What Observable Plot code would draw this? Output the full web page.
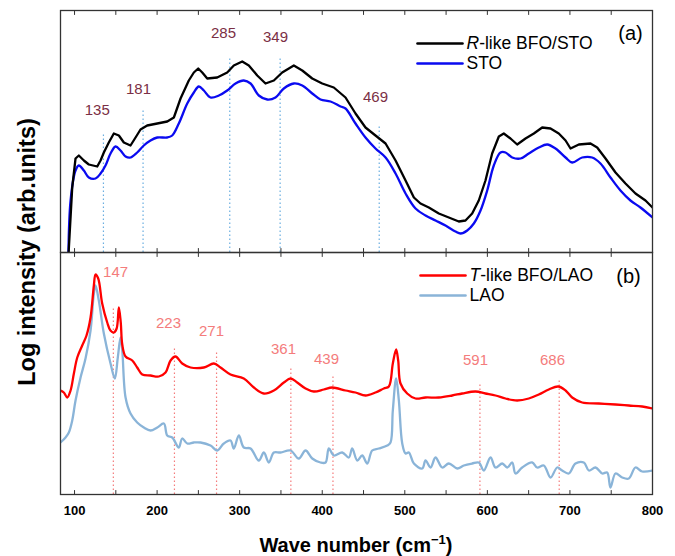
<!DOCTYPE html>
<html><head><meta charset="utf-8">
<script src="https://cdn.jsdelivr.net/npm/d3@7"></script>
<script src="https://cdn.jsdelivr.net/npm/@observablehq/plot@0.6"></script>
<style>body{margin:0;background:#fff}</style>
</head><body><div id="chart"></div>
<script>
// Panel (a): R-like BFO/STO and STO spectra [wavenumber, log intensity (arb.)]
const rlikeBFO = [[92.5,-5],[97.2,65],[101.2,94],[105.2,97],[111.3,92],[117.3,88],[127.5,86],[131.5,92],[135.5,100],[141.5,110],[147.6,119],[153.7,117],[159.7,110],[167.8,107],[173.9,115],[179.9,123],[188,127],[200.2,129],[212.3,131],[220.3,135],[228.4,154],[238.4,172],[244.5,180],[249.8,184],[254.7,180],[260.7,174],[272.8,175],[284.9,180],[292.9,187],[303.1,191],[311.1,187],[321.3,177],[331.3,169],[341.4,172],[351.5,180],[365.6,187],[375.8,182],[387.9,174],[400,169],[414,165],[428.2,155],[440.3,139],[452.4,125],[464.5,117],[476.7,109],[488.8,92],[500.9,72],[511,55],[519,49],[529.1,45],[541.2,39],[553.3,35],[565.4,31],[573.5,32],[581.6,39],[589.6,52],[597.7,72],[605.8,99],[613.9,116],[619.9,119],[628,114],[636.1,108],[646.2,114],[656.3,119],[666.4,125],[676.5,124],[686.5,119],[694.7,112],[700.7,104],[710.8,108],[724.9,109],[733,105],[743.1,94],[755.2,80],[767.3,69],[779.4,59],[791.5,52],[800,45]];
const sto = [[92.5,-5],[95.2,52],[101.2,82],[105.2,87],[111.3,82],[117.3,75],[125.4,74],[131.5,79],[137.5,87],[143.6,99],[149.7,106],[155.7,102],[161.8,96],[167.8,95],[175.9,100],[183.9,107],[192,112],[200.2,115],[212.3,115],[218.3,117],[226.3,129],[236.5,149],[244.5,160],[250.5,166],[256.6,162],[264.7,155],[274.8,157],[284.9,162],[295,169],[305,172],[313.2,169],[323.2,157],[333.4,153],[343.4,155],[353.5,164],[365.6,169],[375.8,167],[387.9,159],[397.9,153],[410,151],[422.2,146],[428.2,144],[440.3,129],[452.4,115],[464.5,104],[476.7,95],[488.8,79],[500.9,59],[513,44],[525.1,37],[537.2,32],[549.3,27],[561.4,21],[567.5,19],[575.6,22],[583.6,29],[591.7,42],[599.8,62],[607.8,87],[615.9,100],[622,100],[630.1,95],[640.2,94],[650.2,99],[662.3,105],[672.5,108],[682.5,104],[694.7,95],[702.7,90],[714.8,95],[726.9,95],[737,89],[749.1,75],[761.2,62],[773.3,52],[785.4,45],[800,35]];
// Panel (b): T-like BFO/LAO and LAO spectra
const tlikeBFO = [[83,104],[87,102],[91.2,97],[95.2,104],[99.2,121],[103.3,137],[109.3,149],[114.5,159],[119.4,177],[123.4,209],[125.4,220],[128.7,216],[133.5,191],[139.6,172],[143.5,164],[147.6,162],[151,166],[153.7,187],[156,172],[157.8,150],[161.8,138],[169.9,134],[175.9,127],[182,120],[192,119],[202.1,118],[210.2,122],[216.3,134],[222.3,138],[230.4,131],[240.5,127],[256.6,127],[268.7,131],[276.8,127],[288.9,120],[305,116],[317.2,107],[329.3,101],[341.4,104],[353.5,112],[361.6,116],[369.7,112],[379.8,106],[389.8,103],[401.9,105],[412.1,107],[428.2,104],[440.3,102],[452.4,99],[464.5,102],[474.6,106],[480.7,108],[485.5,131],[489.5,145],[492,134],[494.8,111],[502.9,101],[513,96],[525.1,97],[541.2,97],[557.4,99],[569.5,101],[585.6,103],[597.7,101],[609.9,99],[622,96],[636.1,94],[650.2,96],[662.3,100],[674.4,105],[685.8,108],[694.7,104],[702.7,97],[714.8,92],[734.9,91],[755.2,90],[771.3,89],[787.5,88],[800,86]];
const lao = [[83,52],[89.1,57],[93.1,62],[97.2,74],[101.2,94],[107.3,117],[113.3,136],[119.4,164],[123.4,201],[125.4,209],[129.4,194],[135.5,161],[143.6,131],[148.8,116],[152.4,137],[155.7,157],[157.8,144],[161.8,97],[167.8,81],[175.9,72],[183.9,67],[192,64],[200.2,67],[208.2,71],[212.3,59],[218.3,57],[226.3,47],[230.4,56],[236.5,51],[244.5,52],[252.6,52],[264.7,49],[272.8,44],[280.8,51],[288.9,54],[292.9,46],[299,59],[305,47],[313.2,46],[323.2,34],[329.3,42],[335.3,32],[341.4,42],[349.5,42],[361.6,44],[371.6,36],[379.8,44],[387.9,36],[397.9,32],[404,32],[408,46],[414.1,39],[424.2,42],[432.2,37],[436.3,46],[442.4,34],[448.4,39],[454.5,31],[460.5,44],[468.5,46],[478.7,49],[482.7,52],[485.5,84],[489.5,116],[492.8,94],[496.9,51],[500.9,41],[504.9,42],[511,31],[521.2,26],[525.1,34],[531.2,27],[537.2,37],[545.3,27],[553.3,31],[563.5,26],[571.5,29],[581.6,31],[589.6,32],[595.7,24],[603.8,37],[609.9,27],[618,31],[624,27],[630.1,32],[634.1,21],[642.2,27],[654.3,32],[660.3,27],[668.4,29],[676.5,17],[684.6,27],[690.6,24],[698.6,21],[706.7,31],[716.8,32],[722.9,24],[731,27],[739.1,21],[745.1,22],[749.1,7],[755.2,21],[763.3,17],[771.3,16],[779.4,27],[787.5,23],[800,24]];

// Peak markers
const peaksAX = [135, 183, 288, 349, 469];
const peaksATop = [119, 142, 195, 194, 128];
const peaksALabel = ["135", "181", "285", "349", "469"];
const peaksALabelX = [127.5, 177.5, 280.4, 343.4, 464.5];
const peaksALabelY = [142, 163, 219, 215, 155];
const peaksBX = [147, 221, 272, 362, 413, 591, 687];
const peaksBTop = [187, 146, 142, 126, 118, 111, 115];
const peaksBLabel = ["147", "223", "271", "361", "439", "591", "686"];
const peaksBLabelX = [149.7, 213.8, 265.9, 353.1, 405.2, 585.6, 678.9];
const peaksBLabelY = [222, 171, 163, 145, 135, 134, 134];

const xTickLabels = [100, 200, 300, 400, 500, 600, 700, 800];
const xTickMinor = [100, 150, 200, 250, 300, 350, 400, 450, 500, 550, 600, 650, 700, 750, 800];

const rows = (pairs, panel) => pairs.map(([x, y]) => ({x, y, panel}));
const peaks = (xs, tops, labels, lx, ly, panel) => xs.map((x, i) => ({x, top: tops[i], label: labels[i], lx: lx[i], ly: ly[i], panel}));
const pA = peaks(peaksAX, peaksATop, peaksALabel, peaksALabelX, peaksALabelY, "a");
const pB = peaks(peaksBX, peaksBTop, peaksBLabel, peaksBLabelX, peaksBLabelY, "b");
const tickShape = {draw(ctx, l) { ctx.moveTo(0, 0); ctx.lineTo(0, -l); }};
const panelA = [{panel: "a"}], panelB = [{panel: "b"}];
const legText = {fy: "panel", frameAnchor: "top-right", lineAnchor: "middle", textAnchor: "start", fontSize: 17.5};
const legLine = {fy: "panel", frameAnchor: "top-right", length: 45, rotate: 90, anchor: "start", shape: tickShape, strokeWidth: 2.6};

const chart = Plot.plot({
  width: 675, height: 556,
  marginLeft: 60, marginRight: 23, marginTop: 10, marginBottom: 62,
  x: {domain: [83, 800]},
  y: {domain: [0, 242], axis: null},
  fy: {domain: ["a", "b"], axis: null, padding: 0},
  style: {fontFamily: "'Liberation Sans', Arial, sans-serif", background: "white", color: "black"},
  marks: [
    Plot.ruleX(pA, {x: "x", y1: 0, y2: "top", fy: "panel", stroke: "#6aaee0", strokeWidth: 1.2, strokeDasharray: "1.5,2.5"}),
    Plot.ruleX(pB, {x: "x", y1: 0, y2: "top", fy: "panel", stroke: "#f47c7c", strokeWidth: 1.2, strokeDasharray: "1.5,2.5"}),
    Plot.text(pA, {x: "lx", y: "ly", text: "label", fy: "panel", fill: "#7b2f45", fontSize: 15}),
    Plot.text(pB, {x: "lx", y: "ly", text: "label", fy: "panel", fill: "#f47c7c", fontSize: 15}),
    Plot.line(rows(sto, "a"), {x: "x", y: "y", fy: "panel", stroke: "#0a0af0", strokeWidth: 2.3, curve: "catmull-rom", clip: true}),
    Plot.line(rows(rlikeBFO, "a"), {x: "x", y: "y", fy: "panel", stroke: "#000", strokeWidth: 2.3, clip: true}),
    Plot.line(rows(lao, "b"), {x: "x", y: "y", fy: "panel", stroke: "#8ab4d8", strokeWidth: 2.3, curve: "catmull-rom", clip: true}),
    Plot.line(rows(tlikeBFO, "b"), {x: "x", y: "y", fy: "panel", stroke: "#ff0000", strokeWidth: 2.3, curve: "catmull-rom", clip: true}),
    Plot.frame({stroke: "#333", strokeWidth: 1.3}),
    Plot.vector(xTickMinor, {x: d => d, frameAnchor: "bottom", length: 4, rotate: 0, anchor: "start", shape: tickShape, stroke: "#333", strokeWidth: 1}),
    Plot.vector(xTickMinor, {x: d => d, frameAnchor: "top", length: 4, rotate: 180, anchor: "start", shape: tickShape, stroke: "#333", strokeWidth: 1}),
    Plot.axisX({anchor: "bottom", ticks: xTickLabels, tickSize: 0, tickPadding: 11, fontSize: 13, fontWeight: "bold", label: null, tickFormat: d => String(d)}),
    // legends
    Plot.vector(panelA, {...legLine, dx: -235, dy: 33, stroke: "#000"}),
    Plot.vector(panelA, {...legLine, dx: -235, dy: 53, stroke: "#0a0af0"}),
    Plot.text(panelA, {...legText, dx: -186, dy: 33, text: () => "R-like BFO/STO"}),
    Plot.text(panelA, {...legText, dx: -186, dy: 53, text: () => "STO"}),
    Plot.text(panelA, {...legText, dx: -22, dy: 23, text: () => "(a)", textAnchor: "middle", fontSize: 20}),
    Plot.vector(panelB, {...legLine, dx: -232, dy: 23, stroke: "#ff0000"}),
    Plot.vector(panelB, {...legLine, dx: -232, dy: 43, stroke: "#8ab4d8"}),
    Plot.text(panelB, {...legText, dx: -183, dy: 23, text: () => "T-like BFO/LAO"}),
    Plot.text(panelB, {...legText, dx: -183, dy: 43, text: () => "LAO"}),
    Plot.text(panelB, {...legText, dx: -24, dy: 24, text: () => "(b)", textAnchor: "middle", fontSize: 20})
  ]
});

const svg = d3.select(chart);
// italic leading letters in legend
svg.selectAll("text").each(function() {
  const t = this.textContent;
  if (t === "R-like BFO/STO" || t === "T-like BFO/LAO") {
    const sel = d3.select(this);
    sel.text(null);
    sel.append("tspan").attr("font-style", "italic").text(t[0]);
    sel.append("tspan").text(t.slice(1));
  }
});
svg.append("text")
  .attr("transform", "translate(35,252) rotate(-90)")
  .attr("text-anchor", "middle").attr("font-size", 23.5).attr("font-weight", "bold")
  .attr("fill", "black")
  .text("Log intensity (arb.units)");
const xl = svg.append("text").attr("x", 356).attr("y", 552).attr("text-anchor", "middle")
  .attr("font-size", 20).attr("font-weight", "bold").attr("fill", "black");
xl.append("tspan").text("Wave number (cm");
xl.append("tspan").attr("font-size", 13).attr("dy", -8).text("\u22121");
xl.append("tspan").attr("dy", 8).text(")");
document.getElementById("chart").appendChild(chart);
</script>
</body></html>
